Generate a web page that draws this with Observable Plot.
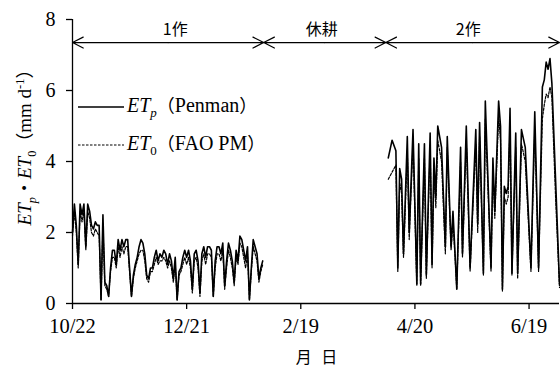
<!DOCTYPE html>
<html><head><meta charset="utf-8">
<script src="https://cdn.jsdelivr.net/npm/d3@7"></script>
<script src="https://cdn.jsdelivr.net/npm/@observablehq/plot@0.6"></script>
<style>
body{margin:0;background:#fff;}
#wrap{position:relative;width:560px;height:368px;font-family:"Liberation Serif","Noto Sans CJK JP",serif;color:#000;}
#wrap > svg{display:block;}
.ov{position:absolute;white-space:nowrap;line-height:1;}
#ylab{left:24px;top:143px;transform:translate(-50%,-50%) rotate(-90deg);font-size:19px;}
#xlab{left:318px;top:356px;transform:translate(-50%,-50%);font-size:16px;font-family:"Noto Sans CJK JP",sans-serif;letter-spacing:3px;}
.leg{left:78px;font-size:20px;}
.leg svg{display:inline-block;vertical-align:middle;margin-right:3px;}
sub,sup{font-size:0.65em;line-height:0;}
.cjk{font-family:"Noto Sans CJK JP",sans-serif;font-size:18px;}
</style></head><body><div id="wrap"></div>
<script>
// ---- data ----
const startDate = "2010-10-22";
// crop 1: daily values from 10/22
const etp1 = [2.0,2.8,2.2,1.1,2.8,2.5,2.8,1.6,2.8,2.6,
  2.2,2.1,2.3,2.2,2.2,0.1,2.5,0.6,0.5,0.2,
  1.0,1.5,1.5,1.1,1.8,1.5,1.8,1.6,1.8,1.8,
  1.0,0.2,0.8,1.1,1.3,1.6,1.8,1.7,1.4,0.8,
  0.7,1.0,1.0,1.3,1.5,1.2,1.4,1.3,1.5,1.4,
  1.1,1.4,1.2,0.7,1.3,0.1,0.9,1.0,1.3,1.5,
  1.3,1.5,1.2,0.4,1.4,1.5,1.2,0.3,1.4,1.6,
  1.3,1.6,1.6,1.5,0.2,1.2,1.6,1.6,1.4,1.7,
  0.5,1.2,1.7,1.5,1.2,0.6,1.5,1.2,1.9,1.8,
  1.5,1.2,1.6,0.1,1.0,1.8,1.6,1.4,0.7,1.0,
  1.2];
const et01 = [1.9,2.6,2.0,1.0,2.6,2.3,2.6,1.5,2.6,2.4,
  2.0,1.9,2.1,2.0,1.9,0.1,2.2,0.5,0.4,0.2,
  0.9,1.3,1.3,1.0,1.6,1.3,1.6,1.4,1.6,1.6,
  0.9,0.2,0.7,1.0,1.2,1.4,1.5,1.5,1.2,0.7,
  0.6,0.9,0.9,1.1,1.3,1.1,1.2,1.2,1.3,1.2,
  1.0,1.2,1.0,0.6,1.1,0.1,0.8,0.9,1.1,1.3,
  1.1,1.3,1.0,0.3,1.2,1.3,1.0,0.2,1.2,1.4,
  1.1,1.4,1.4,1.3,0.2,1.0,1.4,1.4,1.2,1.5,
  0.4,1.0,1.5,1.3,1.0,0.5,1.3,1.1,1.7,1.6,
  1.3,1.0,1.4,0.1,0.9,1.6,1.4,1.2,0.6,0.9,
  1.1];
// crop 2: day offsets from 10/22
const days2 = [166,168,170,171,172,173,174,176,177,179,181,182,183,185,186,188,189,190,191,192,
  194,196,197,199,200,201,202,204,205,207,209,212,213,214,216,217,218,220,221,222,
  224,225,226,227,228,229,230,231,233,234,236,238,241,243,245,247,248,249,250,251,
  252,254,256];
const etp2 = [4.1,4.6,4.3,1.0,3.8,3.5,1.4,4.7,2.0,4.9,0.55,4.5,0.55,4.5,0.8,4.8,1.1,4.1,3.0,5.0,
  4.4,1.6,4.7,1.6,2.6,1.5,0.4,4.4,1.4,5.0,1.0,4.9,2.25,5.1,0.85,5.7,4.1,1.0,4.1,2.6,
  5.7,5.0,0.4,3.3,3.1,3.3,5.5,0.85,4.8,0.85,4.9,4.4,1.0,5.4,1.0,6.1,6.3,6.8,6.6,6.9,
  6.2,3.4,0.55];
const et02 = [3.5,3.7,3.9,0.9,3.4,3.1,1.3,4.3,1.8,4.5,0.5,4.1,0.5,4.1,0.7,4.4,1.0,3.6,2.7,4.6,
  4.0,1.4,4.4,1.5,2.3,1.4,0.4,4.0,1.3,4.6,0.9,4.5,2.0,4.7,0.8,5.2,3.8,0.9,3.7,2.4,
  5.3,4.6,0.35,3.0,2.8,3.0,5.1,0.8,4.4,0.7,4.5,4.0,0.9,4.9,0.9,5.2,5.6,5.9,5.8,6.1,
  5.8,2.9,0.45];
const xTickDays = [0,60,120,180,240];
const xTickLabels = ["10/22","12/21","2/19","4/20","6/19"];
const yTicks = [0,2,4,6,8];
const xEndDay = 256;
const periodLabels = ["1作","休耕","2作"];
const periodStart = [0,100.5,164.7];
const periodEnd = [100.5,164.7,256];
const periodLabelDay = [54,131,208];
const arrowY = 7.35;
const periodLabelY = 7.7;

// ---- build ----
const t0 = Date.parse(startDate + "T00:00:00Z");
const D = d => new Date(t0 + d * 864e5);
const series = [];
etp1.forEach((v,i)=>series.push({date:D(i), v, k:"p", crop:1}));
et01.forEach((v,i)=>series.push({date:D(i), v, k:"0", crop:1}));
days2.forEach((d,i)=>series.push({date:D(d), v:etp2[i], k:"p", crop:2}));
days2.forEach((d,i)=>series.push({date:D(d), v:et02[i], k:"0", crop:2}));
const arrows = [];
periodLabels.forEach((lab,i)=>{
  const m = (periodStart[i]+periodEnd[i])/2;
  arrows.push({xm:D(m), xe:D(periodStart[i]), y:arrowY});
  arrows.push({xm:D(m), xe:D(periodEnd[i]), y:arrowY});
});
const labels = periodLabels.map((t,i)=>({t, x:D(periodLabelDay[i]), y:periodLabelY}));
const serif = "Liberation Serif";

const chart = Plot.plot({
  width:560, height:368,
  marginLeft:72, marginRight:1, marginTop:19, marginBottom:65,
  style:{fontFamily:serif, fontSize:"20px", color:"#000", background:"#fff"},
  x:{type:"utc", domain:[D(0), D(xEndDay)]},
  y:{domain:[0,8]},
  marks:[
    Plot.axisY({ticks:yTicks, tickSize:6, tickPadding:11, tickFormat:d=>String(d), label:null, strokeWidth:1.3, fontSize:20, fontFamily:serif}),
    Plot.axisX({ticks:xTickDays.map(D), tickSize:6, tickPadding:9, tickFormat:(d,i)=>xTickLabels[i], label:null, strokeWidth:1.3, fontSize:20.5, fontFamily:serif}),
    Plot.ruleY([0], {stroke:"black", strokeWidth:1.3}),
    Plot.ruleX([D(0)], {stroke:"black", strokeWidth:1.3}),
    Plot.line(series.filter(d=>d.k==="p"), {x:"date", y:"v", z:"crop", stroke:"black", strokeWidth:1.6, curve:"linear"}),
    Plot.line(series.filter(d=>d.k==="0"), {x:"date", y:"v", z:"crop", stroke:"black", strokeWidth:1.2, strokeDasharray:"2.5,1.5"}),
    Plot.arrow(arrows, {x1:"xm", y1:"y", x2:"xe", y2:"y", stroke:"black", strokeWidth:1.2, headAngle:54, headLength:15}),
    Plot.text(labels, {x:"x", y:"y", text:"t", fontSize:16, fontFamily:"Noto Sans CJK JP, sans-serif", fill:"black"})
  ]
});
const wrap = document.getElementById("wrap");
wrap.appendChild(chart);

function add(html, id, cls, style){
  const d = document.createElement("div");
  d.className = "ov " + (cls||"");
  if (id) d.id = id;
  d.innerHTML = html;
  if (style) d.setAttribute("style", style);
  wrap.appendChild(d);
}
add('<i>ET</i><sub><i>p</i></sub><span class="cjk">・</span><i>ET</i><sub>0</sub><span class="cjk">（</span>mm d<sup>-1</sup><span class="cjk">）</span>', "ylab");
add('月 日', "xlab");
add('<svg width="46" height="4"><line x1="0" x2="46" y1="2" y2="2" stroke="black" stroke-width="1.4"/></svg><i>ET</i><sub><i>p</i></sub><span class="cjk">（</span>Penman<span class="cjk">）</span>', null, "leg", "top:95px");
add('<svg width="46" height="4"><line x1="0" x2="46" y1="2" y2="2" stroke="black" stroke-width="1.1" stroke-dasharray="2.5,1.5"/></svg><i>ET</i><sub>0</sub><span class="cjk">（</span>FAO PM<span class="cjk">）</span>', null, "leg", "top:133px");
</script>
</body></html>
